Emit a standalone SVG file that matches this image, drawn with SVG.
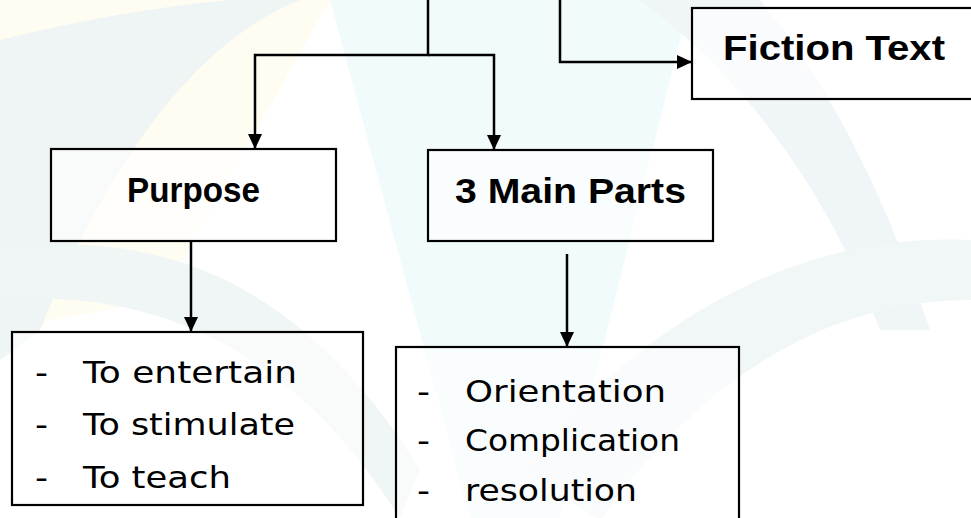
<svg xmlns="http://www.w3.org/2000/svg" width="971" height="518" viewBox="0 0 971 518">
  <style>
    .box{fill:#ffffff;fill-opacity:0.6;stroke:#000;stroke-width:2.2}
    .conn{fill:none;stroke:#000;stroke-width:2.5}
    .lbl{font-family:"Liberation Sans","DejaVu Sans",sans-serif;font-weight:bold;font-size:35px;fill:#000}
    .item{font-family:"DejaVu Sans","Liberation Sans",sans-serif;font-size:30px;fill:#000}
  </style>
  <defs>
    <marker id="arrow" markerUnits="userSpaceOnUse" viewBox="0 0 15 14" markerWidth="15" markerHeight="14" refX="15" refY="7" orient="auto">
      <path d="M0,0 L15,7 L0,14 Z" fill="#000"/>
    </marker>
  </defs>
  <rect width="971" height="518" fill="#ffffff"/>
  <g id="background" opacity="0.55">
    <path d="M330,0 L690,0 L560,518 L470,518 Z" fill="#e8f8fb"/>
    <path d="M0,0 L330,0 L160,300 L0,330 Z" fill="#fffbe8"/>
    <path d="M0,40 Q120,10 230,0 L300,0 Q150,60 40,330 L0,360 Z" fill="#e2ecee"/>
    <path d="M0,250 Q260,210 420,470 L400,518 Q250,280 0,300 Z" fill="#e4edf0"/>
    <path d="M640,0 L760,0 Q860,120 930,330 L880,330 Q800,120 640,0 Z" fill="#e4eff1"/>
    <path d="M520,470 Q720,230 971,240 L971,300 Q760,300 600,520 Z" fill="#e6eff2"/>
  </g>
  <g id="connectors">
    <path class="conn" d="M428,0 V55 H255 V149" marker-end="url(#arrow)"/>
    <path class="conn" d="M428,55 H494 V150" marker-end="url(#arrow)"/>
    <path class="conn" d="M560,0 V62 H692" marker-end="url(#arrow)"/>
    <path class="conn" d="M191,241 V332" marker-end="url(#arrow)"/>
    <path class="conn" d="M567,254 V347" marker-end="url(#arrow)"/>
  </g>
  <g id="fiction-text">
    <rect class="box" x="692" y="8" width="300" height="91"/>
    <text class="lbl" x="723" y="60" textLength="222" lengthAdjust="spacingAndGlyphs">Fiction Text</text>
  </g>
  <g id="purpose">
    <rect class="box" x="51" y="149" width="285" height="92"/>
    <text class="lbl" x="127" y="202" textLength="133" lengthAdjust="spacingAndGlyphs">Purpose</text>
  </g>
  <g id="main-parts">
    <rect class="box" x="428" y="150" width="285" height="91"/>
    <text class="lbl" x="455" y="203" textLength="231" lengthAdjust="spacingAndGlyphs">3 Main Parts</text>
  </g>
  <g id="purpose-list">
    <rect class="box" x="12" y="332" width="351" height="173"/>
    <text class="item" y="383"><tspan x="35" textLength="13" lengthAdjust="spacingAndGlyphs">-</tspan><tspan x="83" textLength="214" lengthAdjust="spacingAndGlyphs">To entertain</tspan></text>
    <text class="item" y="435"><tspan x="35" textLength="13" lengthAdjust="spacingAndGlyphs">-</tspan><tspan x="83" textLength="212" lengthAdjust="spacingAndGlyphs">To stimulate</tspan></text>
    <text class="item" y="488"><tspan x="35" textLength="13" lengthAdjust="spacingAndGlyphs">-</tspan><tspan x="83" textLength="148" lengthAdjust="spacingAndGlyphs">To teach</tspan></text>
  </g>
  <g id="parts-list">
    <rect class="box" x="396" y="347" width="343" height="190"/>
    <text class="item" y="402"><tspan x="417" textLength="13" lengthAdjust="spacingAndGlyphs">-</tspan><tspan x="465" textLength="201" lengthAdjust="spacingAndGlyphs">Orientation</tspan></text>
    <text class="item" y="451"><tspan x="417" textLength="13" lengthAdjust="spacingAndGlyphs">-</tspan><tspan x="465" textLength="215" lengthAdjust="spacingAndGlyphs">Complication</tspan></text>
    <text class="item" y="501"><tspan x="417" textLength="13" lengthAdjust="spacingAndGlyphs">-</tspan><tspan x="465" textLength="172" lengthAdjust="spacingAndGlyphs">resolution</tspan></text>
  </g>
</svg>
